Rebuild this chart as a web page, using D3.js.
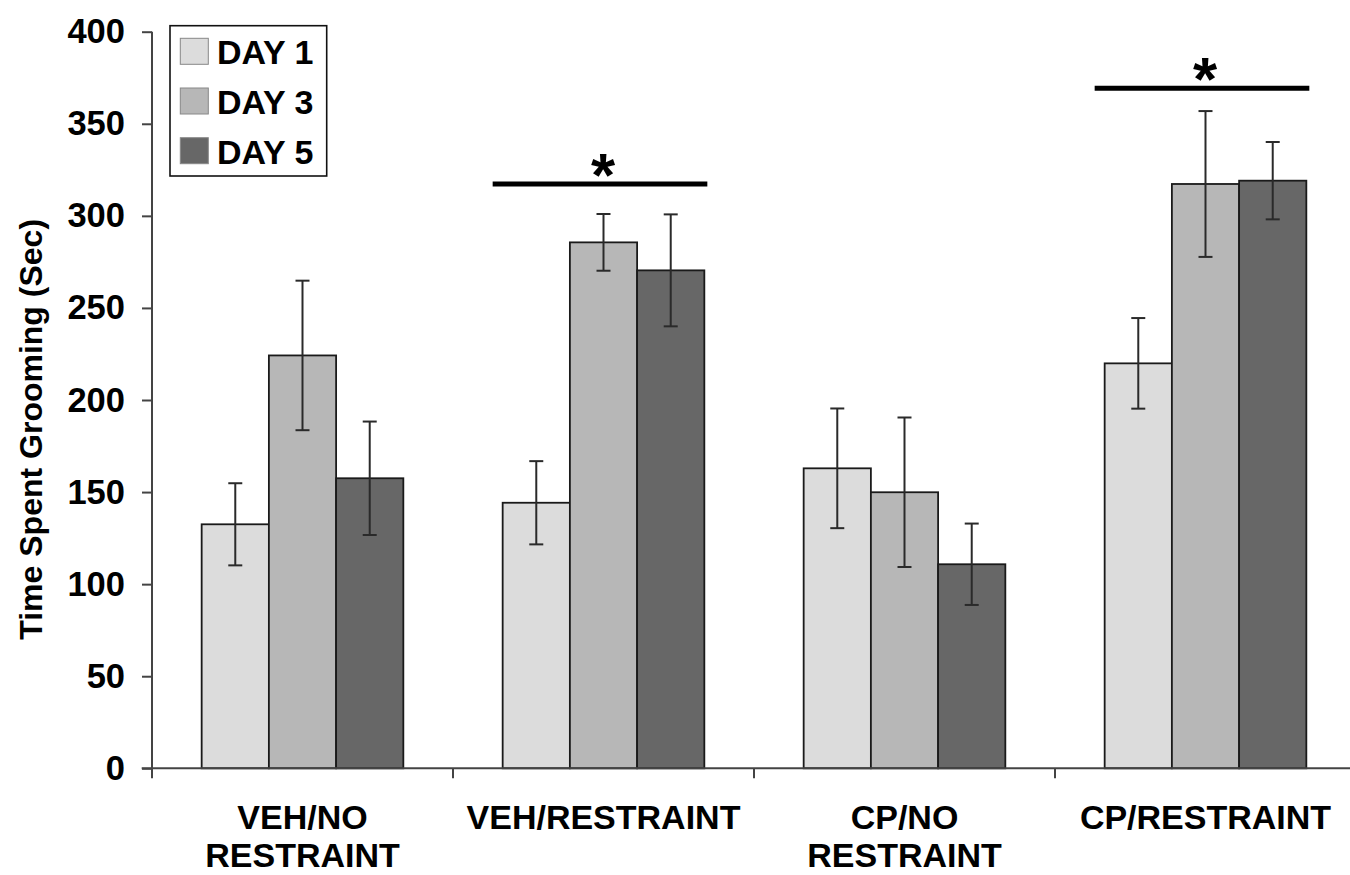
<!DOCTYPE html>
<html>
<head>
<meta charset="utf-8">
<script src="https://cdn.jsdelivr.net/npm/d3@7"></script>
<style>
  html, body { margin: 0; padding: 0; background: #fff; }
  svg { display: block; font-family: "Liberation Sans", Arial, sans-serif; font-weight: bold; }
</style>
</head>
<body>
<svg id="chart" width="1350" height="875"></svg>
<script>
// ---- Data ----
const categories = ["VEH/NO RESTRAINT", "VEH/RESTRAINT", "CP/NO RESTRAINT", "CP/RESTRAINT"];
const categoryLines = [["VEH/NO", "RESTRAINT"], ["VEH/RESTRAINT"], ["CP/NO", "RESTRAINT"], ["CP/RESTRAINT"]];
const days = ["DAY 1", "DAY 3", "DAY 5"];
const day1 = [132.5, 144.2, 162.9, 219.9];
const day3 = [224.2, 285.6, 149.9, 317.3];
const day5 = [157.5, 270.4, 110.8, 319.1];
const day1Err = [22.3, 22.6, 32.5, 24.6];
const day3Err = [40.6, 15.4, 40.6, 39.6];
const day5Err = [30.8, 30.4, 22.1, 21.0];
const yTicks = [0, 50, 100, 150, 200, 250, 300, 350, 400];
const sigCategories = ["VEH/RESTRAINT", "CP/RESTRAINT"];
const sigLevels = [317.3, 369.3];
const sigLabels = ["*", "*"];
const colors = ["#dcdcdc", "#b7b7b7", "#676767"];

const values = [day1, day3, day5];
const errs = [day1Err, day3Err, day5Err];

// ---- Layout ----
const svg = d3.select("#chart");
const x0 = d3.scaleBand().domain(categories).range([152, 1356]).paddingInner(0).paddingOuter(0);
const bw = x0.bandwidth();
const x1 = d3.scaleBand().domain(days).range([bw * 0.165, bw * 0.835]).padding(0);
const y = d3.scaleLinear().domain([0, 400]).range([768.3, 31.7]);

// Bars
const data = [];
categories.forEach((c, i) => {
  days.forEach((d, j) => {
    data.push({ cat: c, day: d, j: j, v: values[j][i], e: errs[j][i] });
  });
});

const bars = svg.append("g");
bars.selectAll("rect").data(data).enter().append("rect")
  .attr("x", d => x0(d.cat) + x1(d.day))
  .attr("y", d => y(d.v))
  .attr("width", x1.bandwidth())
  .attr("height", d => y(0) - y(d.v))
  .attr("fill", d => colors[d.j])
  .attr("stroke", "#1a1a1a")
  .attr("stroke-width", 1.8);

// Error bars
const eg = svg.append("g").attr("stroke", "#2a2a2a").attr("stroke-width", 2);
data.forEach(d => {
  const cx = x0(d.cat) + x1(d.day) + x1.bandwidth() / 2;
  eg.append("line").attr("x1", cx).attr("x2", cx).attr("y1", y(d.v + d.e)).attr("y2", y(d.v - d.e));
  eg.append("line").attr("x1", cx - 7).attr("x2", cx + 7).attr("y1", y(d.v + d.e)).attr("y2", y(d.v + d.e));
  eg.append("line").attr("x1", cx - 7).attr("x2", cx + 7).attr("y1", y(d.v - d.e)).attr("y2", y(d.v - d.e));
});

// Y axis
const yAxis = d3.axisLeft(y).tickValues(yTicks).tickSize(10).tickPadding(17).tickFormat(d3.format("d"));
const ya = svg.append("g").attr("transform", "translate(152,0)").call(yAxis);
ya.select(".domain").remove();
ya.selectAll(".tick line").attr("stroke", "#444").attr("stroke-width", 2);
ya.selectAll(".tick text").attr("font-size", 34.5).attr("font-weight", "bold")
  .attr("font-family", "Liberation Sans, Arial, sans-serif").attr("fill", "#000");
svg.append("line").attr("x1", 152).attr("x2", 152).attr("y1", y(400)).attr("y2", y(0) + 10)
  .attr("stroke", "#444").attr("stroke-width", 2);

// X axis
svg.append("line").attr("x1", 141.7).attr("x2", 1356).attr("y1", y(0)).attr("y2", y(0))
  .attr("stroke", "#444").attr("stroke-width", 2);
categories.slice(1).forEach(c => {
  svg.append("line").attr("x1", x0(c)).attr("x2", x0(c)).attr("y1", y(0)).attr("y2", y(0) + 10)
    .attr("stroke", "#444").attr("stroke-width", 2);
});

// Category labels
categories.forEach((c, i) => {
  const t = svg.append("text").attr("text-anchor", "middle").attr("font-size", 34).attr("fill", "#000");
  categoryLines[i].forEach((ln, k) => {
    t.append("tspan").attr("x", x0(c) + bw / 2).attr("y", 829 + k * 38).text(ln);
  });
});

// Y title
svg.append("text")
  .attr("transform", `translate(42,${(636.7 + 222) / 2}) rotate(-90)`)
  .attr("text-anchor", "middle").attr("font-size", 32).attr("fill", "#000")
  .text("Time Spent Grooming (Sec)");

// Significance bars
sigCategories.forEach((c, i) => {
  const xs = x0(c) + x1.range()[0] - 10;
  const xe = x0(c) + x1.range()[1] + 3;
  svg.append("line").attr("x1", xs).attr("x2", xe).attr("y1", y(sigLevels[i])).attr("y2", y(sigLevels[i]))
    .attr("stroke", "#000").attr("stroke-width", 5);
  svg.append("text").attr("x", (xs + xe) / 2 + 3).attr("y", y(sigLevels[i]) + 12)
    .attr("text-anchor", "middle").attr("font-size", 62).attr("fill", "#000").text(sigLabels[i]);
});

// Legend
const lg = svg.append("g");
lg.append("rect").attr("x", 170).attr("y", 25.7).attr("width", 156.7).attr("height", 150.3)
  .attr("fill", "#fff").attr("stroke", "#111").attr("stroke-width", 1.6);
days.forEach((d, j) => {
  const yy = 38.3 + j * 49.7;
  lg.append("rect").attr("x", 180.3).attr("y", yy).attr("width", 28).attr("height", 26)
    .attr("fill", colors[j]).attr("stroke", "#888").attr("stroke-width", 1);
  lg.append("text").attr("x", 217).attr("y", yy + 26).attr("font-size", 34).attr("fill", "#000").text(d);
});
</script>
</body>
</html>
